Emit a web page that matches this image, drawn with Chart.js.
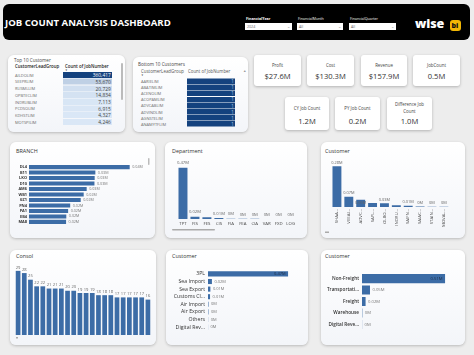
<!DOCTYPE html>
<html><head><meta charset="utf-8">
<script src="https://cdn.jsdelivr.net/npm/chart.js@4.4.1/dist/chart.umd.min.js"></script>
<style>
*{box-sizing:border-box;margin:0;padding:0}
body{width:474px;height:355px;background:#ededed;font-family:'Open Sans',sans-serif;overflow:hidden;position:relative}
#root{position:absolute;left:0;top:0;width:948px;height:710px;transform:scale(0.5);transform-origin:0 0}
#root div{position:absolute;white-space:nowrap}
canvas{position:absolute}
</style></head><body>
<div id="root"></div>
<canvas id="branch" width="138" height="69" style="left:10px;top:160px"></canvas>
<canvas id="dept" width="120" height="69" style="left:177px;top:159px"></canvas>
<canvas id="custTop" width="120" height="74" style="left:331px;top:159px"></canvas>
<canvas id="consol" width="136" height="73" style="left:15px;top:262px"></canvas>
<canvas id="custMid" width="140" height="73" style="left:160px;top:264px"></canvas>
<canvas id="custBot" width="148" height="69" style="left:307px;top:267px"></canvas>

<script>
// ---------- data ----------
const top10Names = ['AILDOLIM','SEEPRLIM','RUSMLLIM','OPBTECLIM','INDRUBLIM','PCDSOLIM','KDHSTLIM','MOTSPILIM'];
const top10Counts = [360417, 53670, 20729, 14834, 7113, 6915, 4327, 4246];
const bot10Names = ['AARIELIM','ABATIMLIM','ACENOLIM','ACOPAMLIM','ADVCABLIM','ADVINDLIM','AGNSTELIM','ANAMYTFLIM'];
const bot10Counts = [1, 1, 1, 1, 1, 1, 1, 1];

const kpiTitles = ['Profit','Cost','Revenue','JobCount','CY Job Count','PY Job Count','Difference Job Count'];
const kpiValues = ['$27.6M','$130.3M','$157.9M','0.5M','1.2M','0.2M','1.0M'];

const branchLabels = ['DL4','B11','LKO','D10','AM6','WB1','GZ1','PN4','PA1','EB4','MA8'];
const branchValues = [44000, 29000, 28700, 28600, 25200, 23900, 22600, 18000, 17100, 16300, 16200];

const deptLabels = ['TPT','FIS','FES','CIS','FIA','FEA','CIA','VAR','FXD','LOG'];
const deptValues = [470000, 21000, 17000, 9000, 2000, 1500, 1200, 1000, 800, 600];

const custTopLabels = ['SHAA...','VEEAI...','ADVC...','SAPL...','OLBO...','INDRU...','SAIFN...','SAIAC...','STAIN...','MOVAL...'];
const custTopValues = [280000, 70000, 50000, 28000, 26000, 12000, 9000, 3000, 2000, 2000];

const consolLabels = ['K01','K02','K03','K04','K05','K06','K07','K08','K09','K10','K11','K12','K13','K14','K15','K16','K17','K18','K19','K20','K21','K22'];
const consolValues = [29, 28, 25, 22, 22, 21, 21, 21, 20, 20, 19, 19, 19, 18, 18, 18, 17, 17, 17, 17, 17, 16];

const custMidLabels = ['3PL','Sea Import','Sea Export','Customs Cl...','Air Import','Air Export','Others','Digital Rev...'];
const custMidValues = [470000, 23000, 14000, 12000, 3000, 2500, 800, 500];

const custBotLabels = ['Non-Freight','Transportati...','Freight','Warehouse','Digital Reve...'];
const custBotValues = [510000, 49000, 22000, 2000, 700];

// ---------- HTML layer (drawn at 2x, scaled 0.5 to allow tiny text) ----------
const S=2;
function box(x,y,w,h,css,html){return `<div style="left:${x*S}px;top:${y*S}px;width:${w*S}px;height:${h*S}px;${css||''}">${html||''}</div>`;}
function txt(x,cy,fs,css,s){return `<div style="left:${x*S}px;top:${(cy-0.68*fs)*S}px;font-size:${fs*S}px;line-height:${1.36*fs*S}px;${css||''}">${s}</div>`;}
function rtxt(xr,w,cy,fs,css,s){return `<div style="left:${(xr-w)*S}px;width:${w*S}px;text-align:right;top:${(cy-0.68*fs)*S}px;font-size:${fs*S}px;line-height:${1.36*fs*S}px;${css||''}">${s}</div>`;}
const cardCss = `background:linear-gradient(#ffffff,#f3f5f9);border-radius:${6*S}px;box-shadow:0 ${1*S}px ${3*S}px rgba(0,0,0,0.22);`;
let H='';
// header
H+=box(3,4,467,36,`background:#000;border-radius:${6*S}px`);
H+=txt(5,22.5,9.6,'font-weight:700;color:#fff','JOB COUNT ANALYSIS DASHBOARD');
const sl=[['FinancialYear','2024',245,47,700],['FinancialMonth','All',297,46,400],['FinancialQuarter','All',349,47,400]];
sl.forEach(([l,v,x,w,fw])=>{
  H+=txt(x+1,19,3.6,`font-weight:${fw};color:#fff`,l);
  H+=box(x,23,w,7,'background:#fff');
  H+=txt(x+2,26.5,3.6,'color:#666',v);
  H+=txt(x+w-5,26,4,'color:#888','&#8964;');
});
H+=txt(415,22.5,12.5,'font-weight:800;color:#fff;letter-spacing:-0.2px','wise');
H+=box(450,20,11,11,`background:#f2b705;border-radius:${3*S}px`);
H+=txt(451.6,25.5,7,'font-weight:800;color:#111','bi');

// tables
function mix(a,b,t){return a.map((v,i)=>Math.round(v+(b[i]-v)*t));}
const light=[218,231,246], dark=[20,66,126];
function table(names, vals, o){
  const mx=Math.max(...vals), mn=Math.min(...vals);
  names.forEach((n,i)=>{
    const t = mx===mn?1:(vals[i]-mn)/(mx-mn);
    const y = o.y0 + i*o.dy;
    H+=txt(o.nx,y,4,'color:#6b6b6b',n);
    H+=box(o.cx,y-o.dy/2,o.cw,o.dy-0.5,`background:rgb(${mix(light,dark,t)})`);
    H+=rtxt(o.cx+o.cw-1.2,40,y,o.vf,`color:${t>0.5?o.darkTxt:'#444'}`,vals[i].toLocaleString('en-US'));
  });
}
H+=box(8,55,117,77,cardCss);
H+=txt(14,60,4.6,'color:#444','Top 10 Customer');
H+=txt(15,66.5,4.4,'color:#222;font-weight:600','CustomerLeadGroup');
H+=txt(65,66.5,4.4,'color:#222;font-weight:600','Count of JobNumber');
H+=txt(65,70.3,2.6,'color:#333','&#9660;');
H+=box(121,63,1.8,37,`background:#bbb;border-radius:${S}px`);
table(top10Names, top10Counts, {y0:75.2, dy:6.7, nx:15, cx:63, cw:49, vf:4.9, darkTxt:'#fff'});

H+=box(133,57,115,75,cardCss);
H+=txt(138,64.5,4.6,'color:#444','Bottom 10 Customers');
H+=txt(141,71.5,4.4,'color:#555','CustomerLeadGroup');
H+=txt(188,71.5,4.4,'color:#555','Count of JobNumber');
H+=txt(141,75.3,2.6,'color:#333','&#9660;');
H+=txt(243,70.5,3.5,'color:#999','&#9650;');
table(bot10Names, bot10Counts, {y0:81.5, dy:6.1, nx:141, cx:187, cw:48, vf:4.5, darkTxt:'#a9c6ea'});

// KPI cards
const kpiBoxes = [[254,55,47,31],[307,55,47,31],[361,55,46,31],[413,55,47,31],[285,97,44,33],[335,97,45,33],[387,97,45,33]];
kpiTitles.forEach((t,i)=>{
  const [x,y,w,h]=kpiBoxes[i];
  H+=box(x,y,w,h,`background:#fff;border-radius:${3*S}px;box-shadow:0 ${S}px ${3*S}px rgba(0,0,0,0.25)`);
  const two = t.length>14;
  const lines = two ? [t.replace(' Count',''),'Count'] : [t];
  const tc = i<4 ? y+10 : (two? y+7.5 : y+11);
  lines.forEach((ln,k)=>{ H+=`<div style="left:${x*S}px;width:${w*S}px;text-align:center;top:${(tc+k*6.5-3)*S}px;font-size:${4.4*S}px;line-height:${6*S}px;color:#444">${ln}</div>`; });
  const vc = i<4 ? y+20.5 : y+24;
  H+=`<div style="left:${x*S}px;width:${w*S}px;text-align:center;top:${(vc-5.5)*S}px;font-size:${7.6*S}px;line-height:${11*S}px;color:#333">${kpiValues[i]}</div>`;
});

// chart cards
H+=box(10,142,145,96,cardCss);   H+=txt(16,151,5.4,'color:#333','BRANCH');
H+=box(148,158,1.6,7,`background:#bbb;border-radius:${S}px`);
H+=box(165,142,142,96,cardCss);  H+=txt(172,151,5.4,'color:#333','Department');
H+=box(172,229,43,1.5,`background:#aaa;border-radius:${S}px`);
H+=box(321,142,144,96,cardCss);  H+=txt(325,151,5.4,'color:#333','Customer');
H+=box(325,231.5,4,1.3,'background:#aaa');
H+=box(10,250,146,95,cardCss);   H+=txt(16,256,5.4,'color:#333','Consol');
H+=box(16,337,2,1.3,'background:#aaa');
H+=box(166,250,142,95,cardCss);  H+=txt(172,256,5.4,'color:#333','Customer');
H+=box(321,250,144,95,cardCss);  H+=txt(325,256,5.4,'color:#333','Customer');
document.getElementById('root').innerHTML=H;

// ---------- charts ----------
const BAR='#3c6ca6';
const fmtM = v => { const r=Math.round(v/1e4)/100; return r===0?'0M':r.toFixed(2)+'M'; };
const fmtInt = v => String(v);

const valueLabels = {
  id:'valueLabels',
  afterDatasetsDraw(chart, args, opts){
    const {ctx, chartArea} = chart;
    const meta = chart.getDatasetMeta(0);
    const data = chart.data.datasets[0].data;
    const horiz = chart.options.indexAxis === 'y';
    const fs = opts.size||5, G = 1.2;
    ctx.save();
    ctx.font = fs+"px 'Open Sans'";
    ctx.textBaseline='middle';
    const drawn=[];
    const hits = r => drawn.some(d => r.x1 < d.x2+G && r.x2 > d.x1-G && r.y1 < d.y2 && r.y2 > d.y1);
    meta.data.forEach((bar,i)=>{
      const txt = opts.fmt(data[i]);
      const w = ctx.measureText(txt).width;
      if(horiz){
        let x = bar.x + 2.5; ctx.textAlign='left'; ctx.fillStyle=opts.color;
        if(x + w > chartArea.right){ x = bar.x - 2.5; ctx.textAlign='right'; ctx.fillStyle=opts.inside; }
        ctx.fillText(txt, x, bar.y);
      } else {
        let cy = bar.y - (opts.off||4);
        const mk = c => ({x1:bar.x-w/2, x2:bar.x+w/2, y1:c-fs/2, y2:c+fs/2});
        let r = mk(cy);
        if(opts.collide && hits(r)){
          const bh = bar.base - bar.y;
          if(bh < fs+2) return;
          cy = bar.y + fs/2 + 1; r = mk(cy);
          if(hits(r)) return;
        }
        ctx.textAlign='center'; ctx.fillStyle=opts.color;
        ctx.fillText(txt, bar.x, cy);
        drawn.push(r);
      }
    });
    ctx.restore();
  }
};

const fontFam = "'Open Sans'";
function hBar(id, labels, values, o){
  new Chart(document.getElementById(id), {
    type:'bar',
    data:{labels, datasets:[{data:values, backgroundColor:BAR, barPercentage:o.bp, categoryPercentage:1}]},
    options:{
      indexAxis:'y', responsive:false, animation:false, devicePixelRatio:1,
      layout:{padding:0},
      plugins:{legend:{display:false}, tooltip:{enabled:false},
        valueLabels:{fmt:fmtM, color:'#777', inside:'#1d2f48', size:o.ls}},
      scales:{
        x:{display:false, min:0, max:o.max},
        y:{grid:{display:false, drawTicks:false}, border:{display:false},
           ticks:{color:o.tc, padding:o.pad, font:{size:o.fs, family:fontFam, weight:o.fw}, autoSkip:false},
           afterFit(s){ s.width=o.yw; }}
      }
    },
    plugins:[valueLabels]
  });
}
function vBar(id, labels, values, o){
  new Chart(document.getElementById(id), {
    type:'bar',
    data:{labels, datasets:[{data:values, backgroundColor:BAR, barPercentage:o.bp, categoryPercentage:1}]},
    options:{
      responsive:false, animation:false, devicePixelRatio:1,
      layout:{padding:0},
      plugins:{legend:{display:false}, tooltip:{enabled:false},
        valueLabels:{fmt:o.fmt, color:'#666', size:o.ls, off:o.off, collide:o.collide}},
      scales:{
        y:{display:false, min:0, max:o.max},
        x:{display:o.xs, grid:{display:false, drawTicks:false}, border:{display:false},
           ticks:{color:'#444', padding:o.pad||2, font:{size:o.tf||4.3, family:fontFam}, autoSkip:false, maxRotation:o.rot||0, minRotation:o.rot||0},
           afterFit(s){ s.height=o.xh; }}
      }
    },
    plugins:[valueLabels]
  });
}

hBar('branch', branchLabels, branchValues, {bp:0.75, max:52000, yw:19, pad:2, fs:3.9, fw:'700', tc:'#333', ls:3.7});
vBar('dept', deptLabels, deptValues, {bp:0.75, max:550000, xs:true, xh:9, fmt:fmtM, ls:4.2, off:4.5, tf:4.3, collide:true});
vBar('custTop', custTopLabels, custTopValues, {bp:0.75, max:330000, xs:true, xh:26, rot:90, fmt:fmtM, ls:3.9, off:3.5, tf:4.3, collide:true});
vBar('consol', consolLabels, consolValues, {bp:0.76, max:33, xs:false, xh:0, fmt:fmtInt, ls:4.1, off:3.5, collide:false});
hBar('custMid', custMidLabels, custMidValues, {bp:0.67, max:540000, yw:48, pad:3, fs:5.2, fw:'400', tc:'#333', ls:4});
hBar('custBot', custBotLabels, custBotValues, {bp:0.8, max:571000, yw:55, pad:3, fs:4.7, fw:'600', tc:'#333', ls:4.2});
</script>
</body></html>
